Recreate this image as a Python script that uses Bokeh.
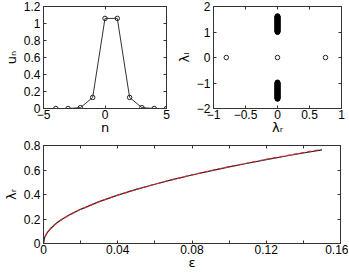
from bokeh.plotting import figure
from bokeh.layouts import column, row
from bokeh.models import LinearAxis, FixedTicker, Range1d, AllLabels
from bokeh.embed import file_html
from bokeh.resources import INLINE

# ---- data ----
n = [-4, -3, -2, -1, 0, 1, 2, 3, 4, 5]
u_n = [0.0, 0.0, 0.01, 0.13, 1.06, 1.06, 0.13, 0.01, 0.0, 0.0]

lam_r_iso = [-0.8, 0.0, 0.75]
lam_i_iso = [0.0, 0.0, 0.0]

lam_i_cont = [1.00, 1.02, 1.04, 1.06, 1.08, 1.10, 1.12, 1.14, 1.16, 1.18, 1.20,
              1.22, 1.24, 1.26, 1.28, 1.30, 1.32, 1.34, 1.36, 1.38, 1.40, 1.42,
              1.44, 1.46, 1.48, 1.50, 1.52, 1.54, 1.56, 1.58, 1.60, 1.62,
              -0.98, -1.00, -1.02, -1.04, -1.06, -1.08, -1.10, -1.12, -1.14, -1.16,
              -1.18, -1.20, -1.22, -1.24, -1.26, -1.28, -1.30, -1.32, -1.34, -1.36,
              -1.38, -1.40, -1.42, -1.44, -1.46, -1.48, -1.50, -1.52, -1.54, -1.56,
              -1.58, -1.60, -1.62]
lam_r_cont = [0.0] * len(lam_i_cont)

eps = [0.0, 0.0005, 0.001, 0.002, 0.004, 0.006, 0.008, 0.01, 0.015, 0.02, 0.03,
       0.04, 0.05, 0.06, 0.07, 0.08, 0.09, 0.10, 0.11, 0.12, 0.13, 0.14, 0.15]
lam_num = [0.0, 0.044, 0.062, 0.088, 0.125, 0.153, 0.177, 0.198, 0.242, 0.279, 0.342,
           0.395, 0.442, 0.484, 0.523, 0.559, 0.593, 0.625, 0.655, 0.684, 0.712, 0.739, 0.765]
lam_app = [0.0, 0.044, 0.062, 0.088, 0.125, 0.153, 0.177, 0.198, 0.242, 0.279, 0.342,
           0.395, 0.442, 0.484, 0.524, 0.560, 0.594, 0.627, 0.657, 0.687, 0.715, 0.743, 0.769]

# tick definitions
tl_xticks = [-5, 0, 5]
tl_xlabels = ["\u22125", "0", "5"]
tl_yticks = [0, 0.2, 0.4, 0.6, 0.8, 1.0, 1.2]
tl_ylabels = ["0", "0.2", "0.4", "0.6", "0.8", "1", "1.2"]
tr_xticks = [-1, -0.5, 0, 0.5, 1]
tr_xlabels = ["\u22121", "\u22120.5", "0", "0.5", "1"]
tr_yticks = [-2, -1, 0, 1, 2]
tr_ylabels = ["\u22122", "\u22121", "0", "1", "2"]
b_xticks = [0, 0.04, 0.08, 0.12, 0.16]
b_xminor = [0.02, 0.06, 0.10, 0.14]
b_xlabels = ["0", "0.04", "0.08", "0.12", "0.16"]
b_yticks = [0, 0.2, 0.4, 0.6, 0.8]
b_ylabels = ["0", "0.2", "0.4", "0.6", "0.8"]

FONT = "Liberation Sans"
AX = "#333333"


def style(p, xt, xl, yt, yl, xlab, ylab, xminor=None):
    xminor = xminor or []
    p.xgrid.visible = False
    p.ygrid.visible = False
    p.outline_line_color = AX
    p.outline_line_width = 1
    for ax, ticks, labels, mnr in ((p.xaxis[0], xt, xl, xminor), (p.yaxis[0], yt, yl, [])):
        ax.ticker = FixedTicker(ticks=ticks, minor_ticks=mnr)
        ax.major_label_overrides = {t: s for t, s in zip(ticks, labels)}
        ax.major_label_policy = AllLabels()
        ax.major_tick_in = 3
        ax.major_tick_out = 0
        ax.minor_tick_in = 3
        ax.minor_tick_out = 0
        ax.minor_tick_line_color = AX
        ax.axis_line_color = AX
        ax.major_tick_line_color = AX
        ax.major_label_text_font = FONT
        ax.major_label_text_font_size = "12px"
        ax.major_label_text_color = "black"
        ax.axis_label_text_font = "DejaVu Sans"
        ax.axis_label_text_font_size = "13px"
        ax.axis_label_text_font_style = "normal"
        ax.axis_label_text_color = "black"
    p.xaxis[0].major_label_standoff = 1
    p.xaxis[0].axis_label_standoff = -2
    p.yaxis[0].major_label_standoff = 3
    p.yaxis[0].axis_label_standoff = 2
    p.xaxis[0].axis_label = xlab
    p.yaxis[0].axis_label = ylab
    for loc, ticks, mnr in (("above", xt, xminor), ("right", yt, [])):
        a = LinearAxis(ticker=FixedTicker(ticks=ticks, minor_ticks=mnr),
                       major_label_text_font_size="1px",
                       major_label_text_color=None,
                       major_label_standoff=0,
                       major_tick_in=3, major_tick_out=0,
                       minor_tick_in=3, minor_tick_out=0,
                       minor_tick_line_color=AX,
                       axis_line_color=AX, major_tick_line_color=AX)
        p.add_layout(a, loc)


# ---- top-left: profile ----
p1 = figure(width=172, height=140, output_backend="svg", toolbar_location=None,
            x_range=Range1d(-5, 5), y_range=Range1d(0, 1.2),
            min_border_left=39, min_border_right=6, min_border_top=6, min_border_bottom=32)
p1.line(n, u_n, line_color="#333333", line_width=1)
p1.scatter(n, u_n, marker="circle", size=4.5, fill_color=None, line_color="#222222", line_width=1)
style(p1, tl_xticks, tl_xlabels, tl_yticks, tl_ylabels, "n", "u\u2099")

# ---- top-right: spectrum ----
p2 = figure(width=176, height=140, output_backend="svg", toolbar_location=None,
            x_range=Range1d(-1, 1), y_range=Range1d(-2, 2),
            min_border_left=41, min_border_right=7, min_border_top=6, min_border_bottom=32)
p2.scatter(lam_r_cont, lam_i_cont, marker="circle", size=5, fill_color="black",
           line_color="black", line_width=1)
p2.scatter(lam_r_iso, lam_i_iso, marker="circle", size=4.5, fill_color=None,
           line_color="#222222", line_width=1)
style(p2, tr_xticks, tr_xlabels, tr_yticks, tr_ylabels, "\u03bb\u1d63", "\u03bb\u1d62")

# ---- bottom: growth rate ----
p3 = figure(width=348, height=132, output_backend="svg", toolbar_location=None,
            x_range=Range1d(0, 0.16), y_range=Range1d(0, 0.8),
            min_border_left=39, min_border_right=8, min_border_top=5, min_border_bottom=26)
p3.line(eps, lam_num, line_color="#222222", line_width=1.2)
p3.line(eps, lam_app, line_color="#e8262b", line_width=1.2, line_dash="4 3")
style(p3, b_xticks, b_xlabels, b_yticks, b_ylabels, "\u03b5", "\u03bb\u1d63", b_xminor)

layout = column(row(p1, p2), p3)
open("out.html", "w").write(file_html(layout, INLINE))
